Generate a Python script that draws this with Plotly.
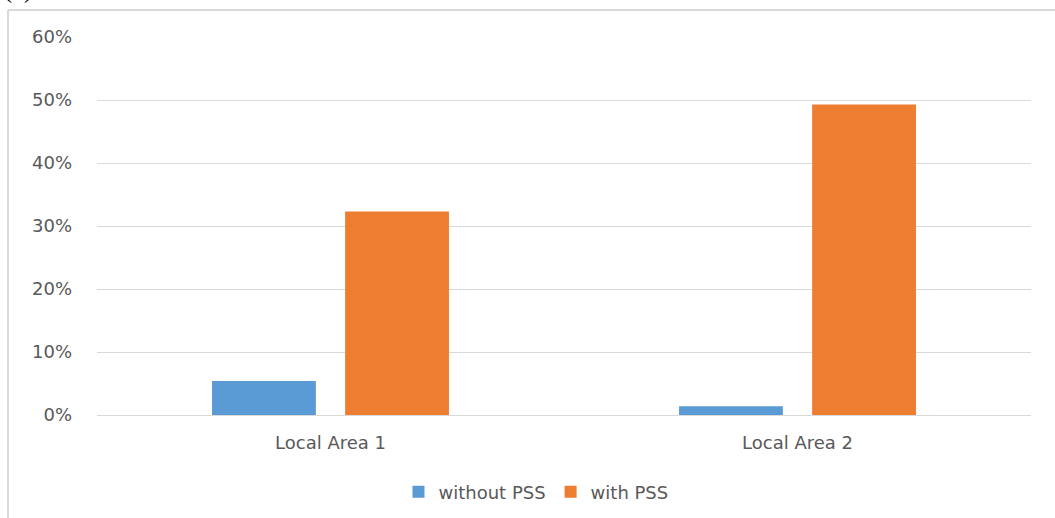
import plotly.graph_objects as go

# Share of cases (fraction) per local area, without and with PSS
areas = ["Local Area 1", "Local Area 2"]
without_pss = [0.054, 0.014]
with_pss = [0.323, 0.493]
y_ticks = [0, 0.1, 0.2, 0.3, 0.4, 0.5, 0.6]
y_tick_text = ["0%", "10%", "20%", "30%", "40%", "50%", "60%"]

BLUE = "#5B9BD5"
ORANGE = "#ED7D31"
GRID = "#d9d9d9"
TEXT = "#595959"
FONT = "DejaVu Sans"

W, H = 1055, 518
ML, MR, MT, MB = 97, 24, 37, 103
PW, PH = W - ML - MR, H - MT - MB


def px_x(x):
    return (x - ML) / PW


def px_y(y):
    return (H - MB - y) / PH


fig = go.Figure()
fig.add_trace(go.Bar(name="without PSS", x=areas, y=without_pss,
                     marker=dict(color=BLUE, line=dict(width=0))))
fig.add_trace(go.Bar(name="with PSS", x=areas, y=with_pss,
                     marker=dict(color=ORANGE, line=dict(width=0))))

fig.update_layout(
    width=W, height=H,
    margin=dict(l=ML, r=MR, t=MT, b=MB, autoexpand=False),
    paper_bgcolor="white", plot_bgcolor="white",
    barmode="group", bargap=0.43, bargroupgap=0.22,
    font=dict(family=FONT, size=18, color=TEXT),
    showlegend=True,
    legend=dict(orientation="h", x=px_x(536), xanchor="center",
                y=px_y(492), yanchor="middle",
                font=dict(family=FONT, size=18, color=TEXT),
                itemwidth=30, bgcolor="rgba(0,0,0,0)"),
    xaxis=dict(showgrid=False, showline=False, ticks="",
               ticklabelstandoff=15, automargin=False,
               tickfont=dict(family=FONT, size=18, color=TEXT)),
    yaxis=dict(range=[0, 0.6], tickvals=y_ticks, ticktext=y_tick_text,
               showgrid=True, gridcolor=GRID, gridwidth=1,
               zeroline=True, zerolinecolor=GRID, zerolinewidth=1,
               showline=False, ticks="", ticklabelstandoff=24,
               automargin=False,
               tickfont=dict(family=FONT, size=18, color=TEXT)),
    shapes=[
        # chart-area frame: left and top edges
        dict(type="line", xref="paper", yref="paper",
             x0=px_x(8), x1=px_x(8), y0=px_y(10), y1=px_y(H + 5),
             line=dict(color=GRID, width=2)),
        dict(type="line", xref="paper", yref="paper",
             x0=px_x(8), x1=px_x(W + 5), y0=px_y(10), y1=px_y(10),
             line=dict(color=GRID, width=2)),
    ],
    annotations=[
        dict(text="r (1).", xref="paper", yref="paper",
             x=px_x(-12), y=px_y(5), xanchor="left", yanchor="bottom",
             showarrow=False,
             font=dict(family="Liberation Serif", size=24, color="black")),
    ],
)

fig.write_html("out.html")
